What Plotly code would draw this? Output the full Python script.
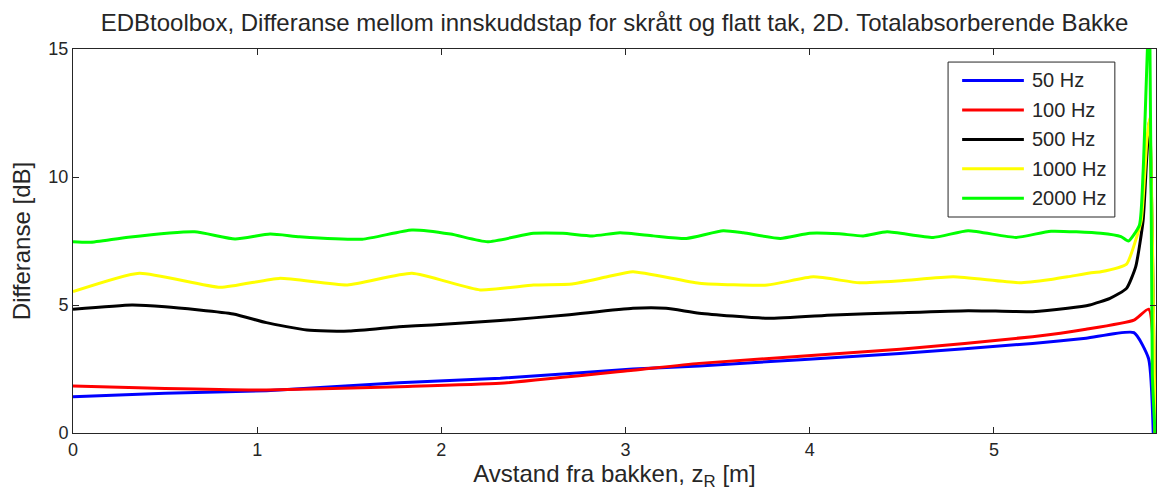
import plotly.graph_objects as go

# Difference in insertion loss (sloped vs. flat roof), per frequency band
x_50 = [0, 0.5, 1.05, 1.77, 2.32, 3.04, 3.40, 4.49, 5.21, 5.50, 5.76, 5.84, 5.865]
y_50 = [1.42, 1.55, 1.65, 1.96, 2.14, 2.50, 2.62, 3.11, 3.50, 3.70, 3.92, 2.90, 0.0]

x_100 = [0, 0.2, 0.5, 1.05, 1.77, 2.32, 3.04, 3.40, 4.49, 5.21, 5.50, 5.76, 5.84, 5.875]
y_100 = [1.84, 1.80, 1.74, 1.68, 1.81, 1.94, 2.45, 2.72, 3.27, 3.76, 4.05, 4.41, 4.84, 0.0]

x_500 = [0, 0.32, 0.5, 0.87, 1.05, 1.27, 1.5, 1.77, 1.95, 2.32, 2.68, 3.04, 3.22, 3.40,
         3.77, 4.13, 4.49, 4.86, 5.21, 5.40, 5.52, 5.63, 5.72, 5.77, 5.81, 5.83, 5.845, 5.875]
y_500 = [4.83, 5.0, 4.93, 4.65, 4.31, 4.02, 3.98, 4.15, 4.22, 4.39, 4.61, 4.87, 4.87, 4.68,
         4.48, 4.61, 4.70, 4.78, 4.74, 4.87, 5.0, 5.26, 5.65, 6.5, 8.3, 10.8, 12.2, 0.0]

x_1000 = [0, 0.36, 0.80, 1.12, 1.49, 1.84, 2.21, 2.50, 2.71, 2.90, 3.04, 3.40, 3.77, 4.02,
          4.27, 4.50, 4.78, 5.14, 5.31, 5.40, 5.52, 5.58, 5.72, 5.77, 5.80, 5.83, 5.845, 5.875]
y_1000 = [5.52, 6.24, 5.69, 6.04, 5.78, 6.24, 5.59, 5.78, 5.82, 6.10, 6.30, 5.85, 5.78, 6.10,
          5.87, 5.95, 6.10, 5.87, 6.00, 6.10, 6.25, 6.30, 6.60, 7.54, 8.3, 11.4, 12.3, 0.0]

x_2000 = [0, 0.09, 0.3, 0.66, 0.88, 1.07, 1.23, 1.57, 1.84, 2.05, 2.25, 2.50, 2.66, 2.82,
          2.97, 3.15, 3.33, 3.53, 3.64, 3.84, 4.0, 4.16, 4.29, 4.42, 4.67, 4.86, 5.12, 5.31,
          5.58, 5.69, 5.73, 5.79, 5.81, 5.845, 5.86, 5.875]
y_2000 = [7.47, 7.45, 7.65, 7.86, 7.58, 7.77, 7.67, 7.57, 7.93, 7.77, 7.47, 7.80, 7.80, 7.70,
          7.82, 7.70, 7.60, 7.90, 7.82, 7.60, 7.80, 7.78, 7.70, 7.86, 7.64, 7.90, 7.64, 7.88,
          7.80, 7.67, 7.50, 8.12, 10.2, 17.0, 2.3, 0.0]

series_names = ["50 Hz", "100 Hz", "500 Hz", "1000 Hz", "2000 Hz"]
series_x = [x_50, x_100, x_500, x_1000, x_2000]
series_y = [y_50, y_100, y_500, y_1000, y_2000]
series_colors = ["#0000ff", "#ff0000", "#000000", "#ffff00", "#00ff00"]

x_ticks = [0, 1, 2, 3, 4, 5]
y_ticks = [0, 5, 10, 15]

FONT = "Liberation Sans, Arial, sans-serif"
INK = "#262626"

fig = go.Figure()
for name, xs, ys, color in zip(series_names, series_x, series_y, series_colors):
    fig.add_trace(go.Scatter(
        x=xs, y=ys, mode="lines", name=name, showlegend=False,
        line=dict(color=color, width=3, shape="spline", smoothing=0.5),
    ))

# Boxed legend in the upper right of the axes (paper coordinates)
leg_x0, leg_x1 = 0.808, 0.962
leg_y0, leg_y1 = 0.5625, 0.966
line_x0, line_x1 = 0.821, 0.878
text_x = 0.884
row_top, row_step = 0.918, 0.0767

shapes = [dict(type="rect", xref="paper", yref="paper",
               x0=leg_x0, x1=leg_x1, y0=leg_y0, y1=leg_y1,
               line=dict(color=INK, width=1), fillcolor="white", layer="above")]
annotations = []
for i, (name, color) in enumerate(zip(series_names, series_colors)):
    yy = row_top - i * row_step
    shapes.append(dict(type="line", xref="paper", yref="paper",
                       x0=line_x0, x1=line_x1, y0=yy, y1=yy,
                       line=dict(color=color, width=3), layer="above"))
    annotations.append(dict(text=name, xref="paper", yref="paper", x=text_x, y=yy,
                            xanchor="left", yanchor="middle", showarrow=False,
                            font=dict(family=FONT, size=20, color=INK)))

axis_common = dict(
    showline=True, linecolor=INK, linewidth=1, mirror="ticks",
    ticks="inside", ticklen=6, tickcolor=INK, tickwidth=1,
    showgrid=False, zeroline=False,
    tickfont=dict(family=FONT, size=18, color=INK),
)

fig.update_layout(
    width=1157, height=500,
    margin=dict(l=73, r=1, t=49, b=67),
    paper_bgcolor="white", plot_bgcolor="white",
    title=dict(
        text="EDBtoolbox, Differanse mellom innskuddstap for skrått og flatt tak, 2D. Totalabsorberende Bakke",
        x=0.5, xref="paper", xanchor="center", y=0.955, yref="container", yanchor="middle",
        font=dict(family=FONT, size=24, color=INK),
    ),
    xaxis=dict(
        range=[0, 5.88], tickvals=x_ticks, ticktext=[str(v) for v in x_ticks],
        title=dict(text="Avstand fra bakken, z<sub>R</sub> [m]", standoff=2,
                   font=dict(family=FONT, size=24, color=INK)),
        **axis_common,
    ),
    yaxis=dict(
        range=[0, 15], tickvals=y_ticks, ticktext=[str(v) for v in y_ticks],
        title=dict(text="Differanse [dB]", standoff=10,
                   font=dict(family=FONT, size=24, color=INK)),
        **axis_common,
    ),
    shapes=shapes,
    annotations=annotations,
    showlegend=False,
)

fig.write_html("out.html")
